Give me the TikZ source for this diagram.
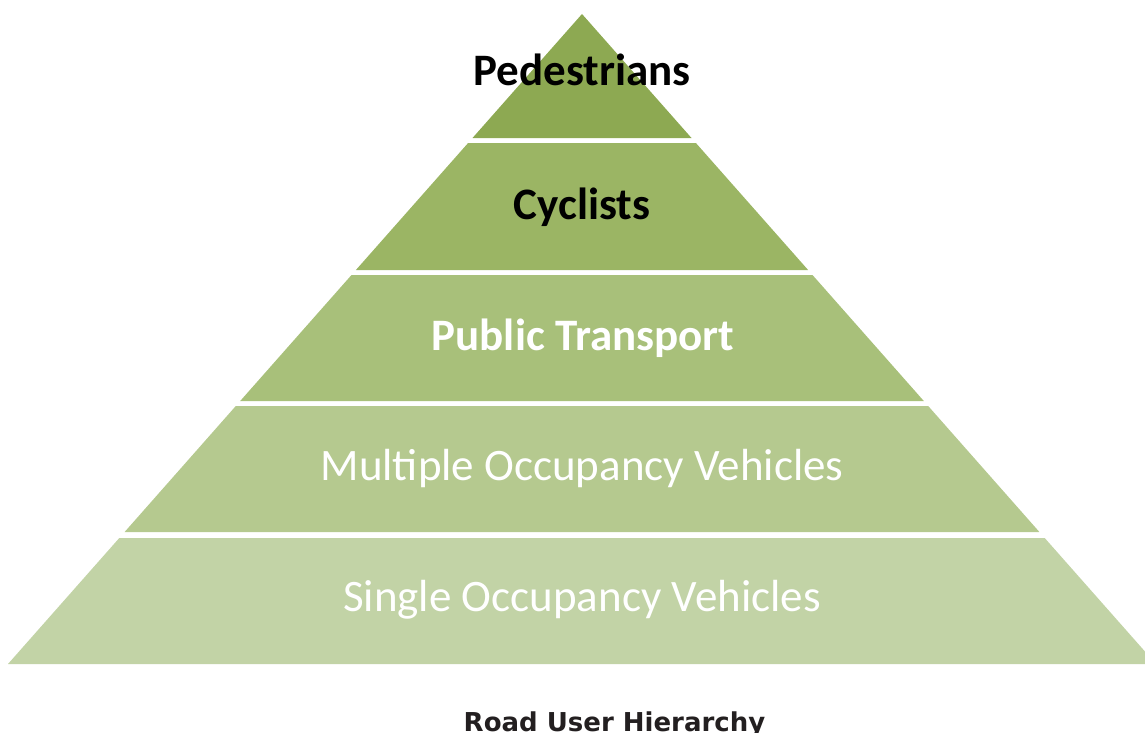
\documentclass[tikz,border=0pt]{standalone}
\usepackage{fontspec}
\setmainfont{Carlito}
\newfontfamily\titlefont{DejaVu Sans}
\definecolor{lvA}{RGB}{141,169,82}
\definecolor{lvB}{RGB}{155,181,100}
\definecolor{lvC}{RGB}{168,192,122}
\definecolor{lvD}{RGB}{181,201,143}
\definecolor{lvE}{RGB}{194,211,166}
\definecolor{titlegray}{RGB}{35,31,32}
\begin{document}
\begin{tikzpicture}[x=1pt,y=-1pt,
  boldlabel/.style={font=\fontsize{45}{50}\selectfont\bfseries, text=black, inner sep=0pt, anchor=base},
  whitebold/.style={font=\fontsize{45}{50}\selectfont\bfseries, text=white, inner sep=0pt, anchor=base},
  whitelabel/.style={font=\fontsize{45}{50}\selectfont, text=white, inner sep=0pt, anchor=base}]
\useasboundingbox (0,0) rectangle (1145,733);
\clip (0,0) rectangle (1145,733);
\fill[lvA] (582,14) -- (691.5,138) -- (472.5,138) -- cycle;
\fill[lvB] (468.1,143) -- (695.9,143) -- (808.1,270) -- (355.9,270) -- cycle;
\fill[lvC] (351.5,275) -- (812.5,275) -- (923.8,401) -- (240.2,401) -- cycle;
\fill[lvD] (235.8,406) -- (928.2,406) -- (1039.4,532) -- (124.6,532) -- cycle;
\fill[lvE] (119.3,538) -- (1044.7,538) -- (1156,664) -- (8,664) -- cycle;
\node[boldlabel] (ped) at (582,86) {Pedestrians};
\node[boldlabel] (cyc) at (582,219) {Cyclists};
\node[whitebold] (pub) at (583,350) {Public Transport};
\node[whitelabel] (mult) at (582,480) {Multiple Occupancy Vehicles};
\node[whitelabel] (sing) at (582,611) {Single Occupancy Vehicles};
\node[font=\titlefont\fontsize{26}{30}\selectfont\bfseries, text=titlegray, inner sep=0pt, anchor=base] (title) at (614.5,731) {Road User Hierarchy};
\end{tikzpicture}
\end{document}
